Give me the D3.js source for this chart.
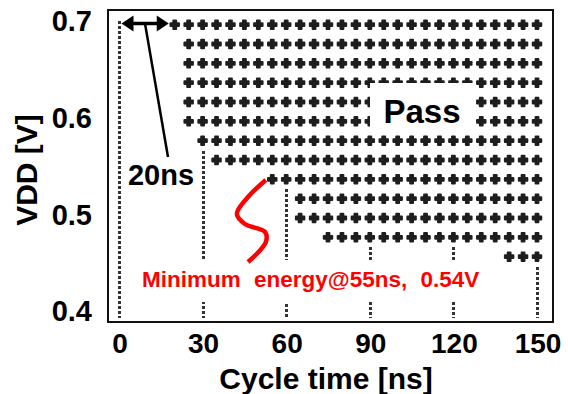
<!DOCTYPE html>
<html>
<head>
<meta charset="utf-8">
<script src="https://cdn.jsdelivr.net/npm/d3@7"></script>
<style>
  html, body { margin: 0; padding: 0; background: #fff; }
  svg { display: block; }
  text { font-family: "Liberation Sans", Arial, sans-serif; font-weight: bold; }
</style>
</head>
<body>
<svg id="chart" width="568" height="394"></svg>
<script>
// ---- data ----
const voltages   = [0.70, 0.68, 0.66, 0.64, 0.62, 0.60, 0.58, 0.56, 0.54, 0.52, 0.50, 0.48, 0.46];
const minPassNs  = [20,   25,   25,   25,   25,   25,   30,   35,   55,   65,   65,   75,   140];
const cycleTimes = [20, 25, 30, 35, 40, 45, 50, 55, 60, 65, 70, 75, 80, 85, 90, 95, 100,
                    105, 110, 115, 120, 125, 130, 135, 140, 145, 150];
const xTicks = [0, 30, 60, 90, 120, 150];
const yTicks = [0.4, 0.5, 0.6, 0.7];
// annotation S-curve near the minimum-energy point (ns, V)
const minEnergyCurve = [[52.7,0.5394],[46.3,0.5218],[42.3,0.5042],[45.2,0.4938],[52.4,0.4856],[52.7,0.4752],[46.3,0.4545]];

const svg = d3.select("#chart");
const x = d3.scaleLinear().domain([0, 150]).range([119, 537]);
const y = d3.scaleLinear().domain([0.4, 0.7]).range([314.7, 24.7]);

const frame = {l: 108, t: 10, r: 553, b: 322};

// points
const points = [];
voltages.forEach((v, i) => {
  cycleTimes.forEach(t => { if (t >= minPassNs[i]) points.push({t, v}); });
});

// dotted vertical guides
const guideBottom = 318;
svg.append("g").selectAll("line").data(xTicks).join("line")
  .attr("x1", d => Math.round(x(d)) + 0.5).attr("x2", d => Math.round(x(d)) + 0.5)
  .attr("y1", d => {
    const passing = voltages.filter((v, i) => minPassNs[i] <= d);
    return Math.round(passing.length ? y(d3.min(passing)) + 10 : y(0.70) - 4);
  })
  .attr("y2", guideBottom)
  .attr("stroke", "#333").attr("stroke-width", 3)
  .attr("stroke-dasharray", "3,2");

// markers
const sym = d3.symbol().type(d3.symbolCross).size(40);
svg.append("g").selectAll("path").data(points).join("path")
  .attr("transform", d => `translate(${x(d.t)},${y(d.v)})`)
  .attr("d", sym)
  .attr("fill", "#1e1e1e").attr("stroke", "#1e1e1e")
  .attr("stroke-width", 2).attr("stroke-linejoin", "round");

// "Pass" box
svg.append("rect").attr("x", 370).attr("y", 83).attr("width", 103).attr("height", 49).attr("fill", "#fff");
svg.append("text").attr("x", 422).attr("y", 123).attr("text-anchor", "middle")
  .attr("font-size", 33).attr("fill", "#000").text("Pass");

// red annotation box
svg.append("rect").attr("x", 133).attr("y", 260).attr("width", 360).attr("height", 42).attr("fill", "#fff");
svg.append("text").attr("x", 142).attr("y", 287).attr("font-size", 22.5)
  .attr("word-spacing", 7).attr("fill", "#ff0000").text("Minimum energy@55ns, 0.54V");

// S-curve
svg.append("path")
  .attr("d", d3.line().x(d => x(d[0])).y(d => y(d[1])).curve(d3.curveCatmullRom.alpha(0.5))(minEnergyCurve))
  .attr("fill", "none").attr("stroke", "#ff0000").attr("stroke-width", 4.5).attr("stroke-linecap", "butt");

// 20ns arrow
const ay = y(0.70) - 1.2;
const ax1 = x(0) + 2.5, ax2 = x(20) - 6;
svg.append("line").attr("x1", ax1 + 8).attr("x2", ax2 - 8).attr("y1", ay).attr("y2", ay)
  .attr("stroke", "#000").attr("stroke-width", 3.5);
svg.append("path").attr("d", `M${ax1},${ay} L${ax1 + 12},${ay - 8} L${ax1 + 12},${ay + 8} Z`).attr("fill", "#000");
svg.append("path").attr("d", `M${ax2},${ay} L${ax2 - 12},${ay - 8} L${ax2 - 12},${ay + 8} Z`).attr("fill", "#000");
svg.append("line").attr("x1", 145).attr("y1", ay).attr("x2", 168).attr("y2", 157)
  .attr("stroke", "#000").attr("stroke-width", 2.5);
svg.append("text").attr("x", 161).attr("y", 185).attr("text-anchor", "middle")
  .attr("font-size", 29).attr("fill", "#000").text("20ns");

// frame
svg.append("rect").attr("x", frame.l).attr("y", frame.t)
  .attr("width", frame.r - frame.l).attr("height", frame.b - frame.t)
  .attr("fill", "none").attr("stroke", "#111").attr("stroke-width", 2);

// tick labels
svg.append("g").selectAll("text").data(xTicks).join("text")
  .attr("x", d => x(d) + 1).attr("y", 353).attr("text-anchor", "middle")
  .attr("font-size", 28).attr("fill", "#000").text(d => d);
svg.append("g").selectAll("text").data(yTicks).join("text")
  .attr("x", 92).attr("y", d => y(d) - 3.5).attr("dy", "0.35em").attr("text-anchor", "end")
  .attr("font-size", 29).attr("fill", "#000").text(d => d.toFixed(1));

// axis titles
svg.append("text").attr("x", 326).attr("y", 389).attr("text-anchor", "middle")
  .attr("font-size", 30).attr("fill", "#000").text("Cycle time [ns]");
svg.append("text").attr("transform", "translate(37,170) rotate(-90)").attr("text-anchor", "middle")
  .attr("font-size", 30).attr("fill", "#000").text("VDD [V]");
</script>
</body>
</html>
